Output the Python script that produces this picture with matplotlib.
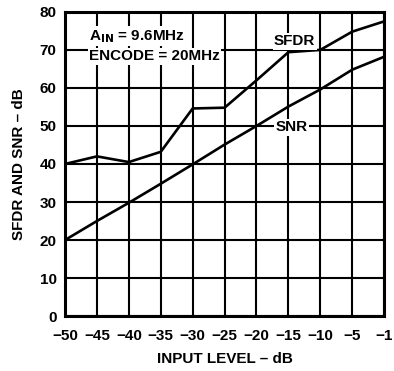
import matplotlib.pyplot as plt
import numpy as np

plt.rcParams['font.family'] = ['Liberation Sans', 'DejaVu Sans']
plt.rcParams['font.weight'] = 'bold'

# input level (dB) - evenly spaced on the chart
input_level = [-50, -45, -40, -35, -30, -25, -20, -15, -10, -5, -1]
sfdr = [40, 42, 40.5, 43.2, 54.6, 54.8, 62, 69.4, 70, 74.8, 77.5]
snr = [20, 25, 29.8, 34.8, 39.9, 45.1, 50, 55.1, 59.6, 64.8, 68.2]

fs = 11

fig = plt.figure(figsize=(3.94, 3.71), dpi=100)
ax = fig.add_axes([0.165, 0.148, 0.81, 0.82])

x = np.arange(len(input_level))
ax.plot(x, sfdr, color='black', linewidth=1.9, zorder=3)
ax.plot(x, snr, color='black', linewidth=1.9, zorder=3)

ax.set_xlim(0, len(input_level) - 1)
ax.set_ylim(0, 80)
ax.set_xticks(x)
ax.set_xticklabels([str(v).replace('-', '\u2212') for v in input_level])
ax.set_yticks(range(0, 81, 10))
ax.grid(True, color='black', linewidth=1.5)
ax.set_axisbelow(True)
ax.tick_params(axis='x', length=0, labelsize=fs, pad=9)
ax.tick_params(axis='y', length=0, labelsize=fs, pad=6)
for s in ax.spines.values():
    s.set_linewidth(2.2)

ax.set_xlabel('INPUT LEVEL \u2013 dB', fontsize=fs, fontweight='bold', labelpad=7)
ax.set_ylabel('SFDR AND SNR \u2013 dB', fontsize=fs, fontweight='bold', labelpad=10)

box = dict(facecolor='white', edgecolor='none', pad=1)
ax.text(0.75, 73.6, r'A$_{\mathbf{IN}}$ = 9.6MHz', fontsize=fs, fontweight='bold',
        va='center', ha='left', bbox=box, zorder=4)
ax.text(0.75, 68.3, 'ENCODE = 20MHz', fontsize=fs, fontweight='bold',
        va='center', ha='left', bbox=box, zorder=4)
ax.text(7.2, 72.3, 'SFDR', fontsize=fs, fontweight='bold', va='center', ha='center',
        bbox=box, zorder=4)
ax.text(7.1, 49.6, 'SNR', fontsize=fs, fontweight='bold', va='center', ha='center',
        bbox=box, zorder=4)

fig.savefig('out.png', dpi=100)
